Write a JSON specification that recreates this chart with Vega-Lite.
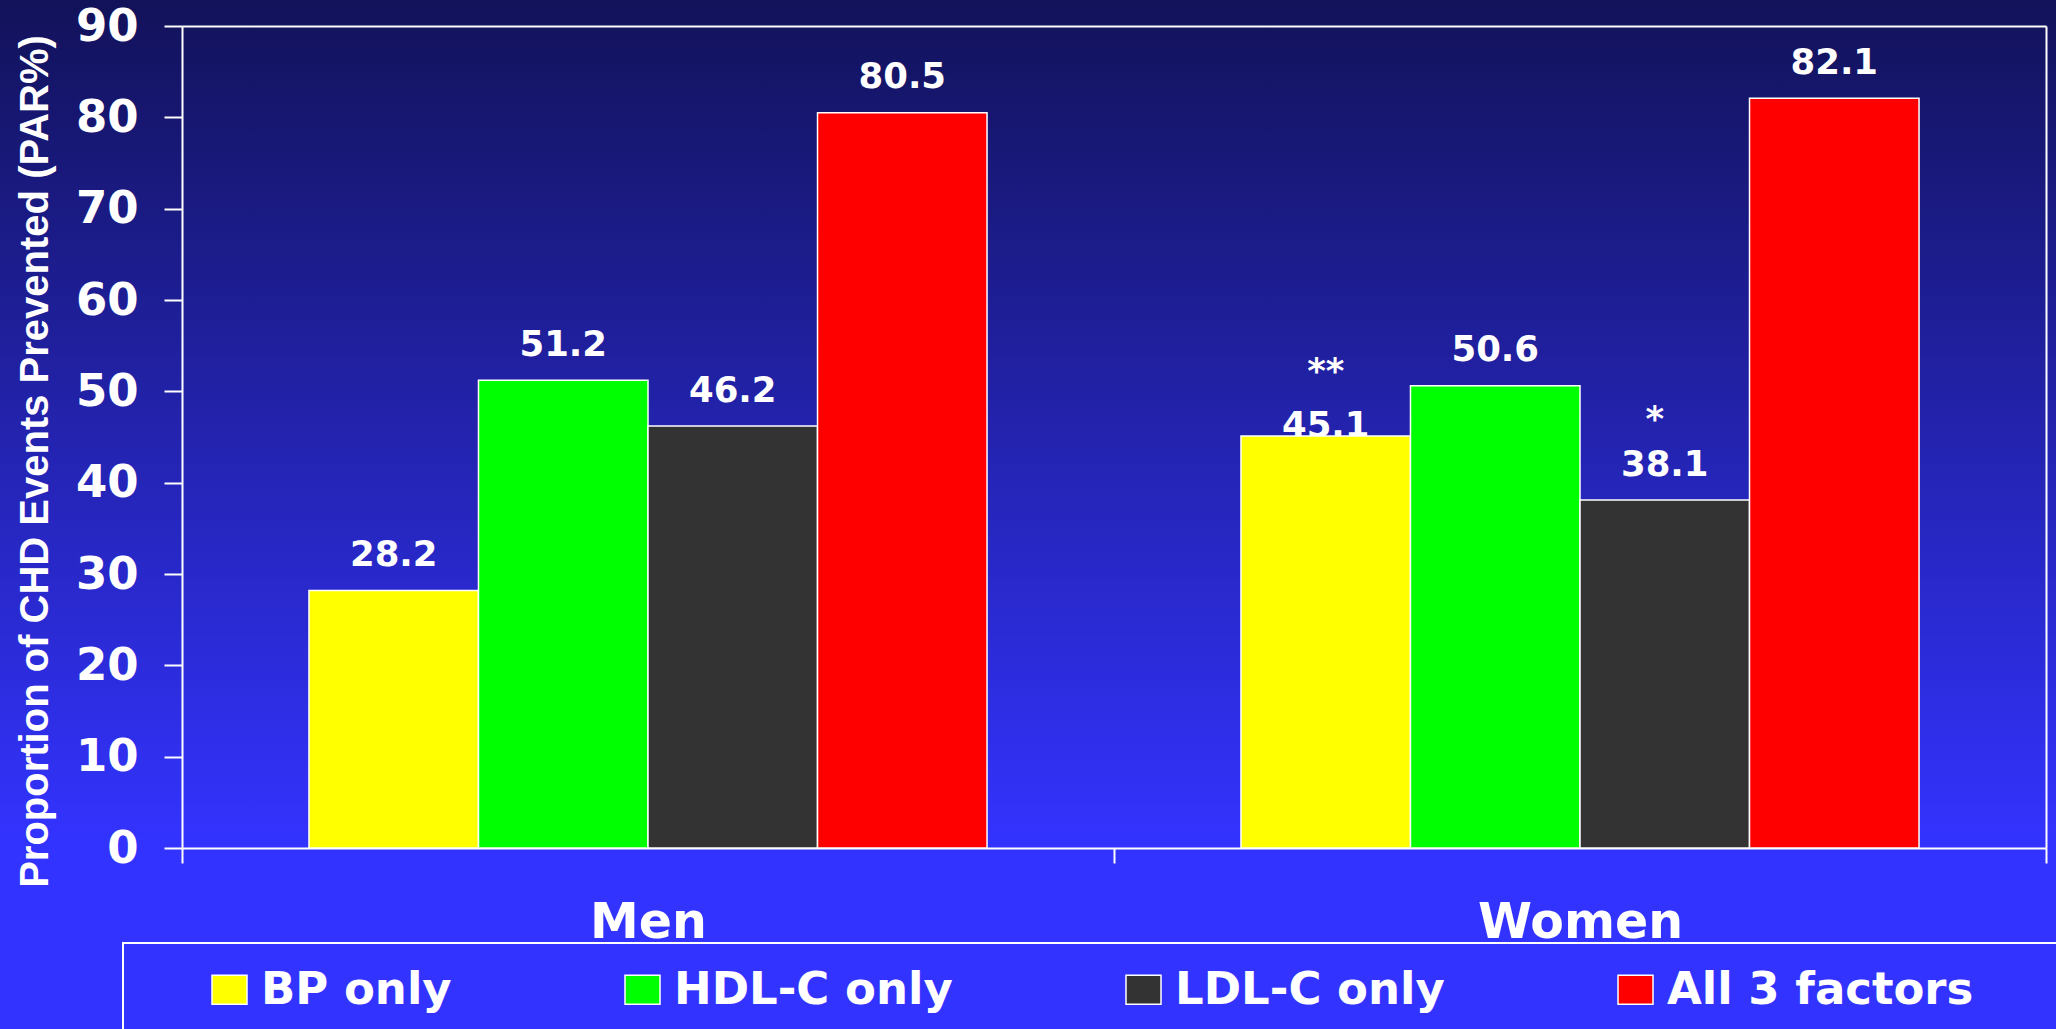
{
  "$schema": "https://vega.github.io/schema/vega-lite/v6.json",
  "width": 2056,
  "height": 1029,
  "autosize": {"type": "none"},
  "padding": 0,
  "background": "#3333ff",
  "config": {
    "view": {
      "stroke": null,
      "fill": {
        "gradient": "linear",
        "x1": 0, "y1": 0, "x2": 0, "y2": 1,
        "stops": [
          {"offset": 0, "color": "#12125a"},
          {"offset": 0.82, "color": "#3333ff"},
          {"offset": 1, "color": "#3333ff"}
        ]
      }
    },
    "axis": {
      "grid": false,
      "domainColor": "white",
      "domainWidth": 2,
      "tickColor": "white",
      "tickWidth": 2,
      "labelColor": "white",
      "titleColor": "white"
    },
    "legend": {"strokeWidth": 2}
  },
  "title": {
    "text": "(Wong et al., Am J Cardiol, 91:1421, 2003)",
    "orient": "top",
    "anchor": "start",
    "frame": "group",
    "offset": -14,
    "baseline": "alphabetic",
    "dx": 612,
    "font": "Liberation Sans",
    "fontSize": 47,
    "fontWeight": "normal",
    "color": "#00ffff"
  },
  "data": {
    "values": [
      {"sex": "Men", "factor": "BP only", "par": 28.2, "note": ""},
      {"sex": "Men", "factor": "HDL-C only", "par": 51.2, "note": ""},
      {"sex": "Men", "factor": "LDL-C only", "par": 46.2, "note": ""},
      {"sex": "Men", "factor": "All 3 factors", "par": 80.5, "note": ""},
      {"sex": "Women", "factor": "BP only", "par": 45.1, "note": "**"},
      {"sex": "Women", "factor": "HDL-C only", "par": 50.6, "note": ""},
      {"sex": "Women", "factor": "LDL-C only", "par": 38.1, "note": "*"},
      {"sex": "Women", "factor": "All 3 factors", "par": 82.1, "note": ""}
    ]
  },
  "resolve": {"axis": {"x": "independent", "y": "independent"}},
  "layer": [
    {
      "transform": [{"filter": "datum.note == '**'"}],
      "mark": {"type": "text", "font": "DejaVu Sans", "fontWeight": "bold", "fontSize": 35.5, "color": "white", "baseline": "alphabetic", "dy": 1},
      "encoding": {
        "x": {"field": "sex", "type": "nominal", "sort": ["Men", "Women"], "axis": null},
        "xOffset": {"field": "factor", "type": "nominal", "sort": ["BP only", "HDL-C only", "LDL-C only", "All 3 factors"]},
        "y": {"field": "par", "type": "quantitative", "axis": null},
        "text": {"field": "par", "type": "quantitative", "format": ".1f"}
      }
    },
    {
      "mark": {"type": "bar", "stroke": "white", "strokeWidth": 1.5},
      "encoding": {
        "x": {
          "field": "sex",
          "type": "nominal",
          "sort": ["Men", "Women"],
          "scale": {"range": [182, 2046], "paddingInner": 0, "paddingOuter": 0},
          "axis": {
            "orient": "bottom",
            "offset": -181,
            "title": null,
            "tickBand": "extent",
            "tickSize": 15,
            "labelAngle": 0,
            "labelFont": "DejaVu Sans",
            "labelFontWeight": "bold",
            "labelFontSize": 49,
            "labelBaseline": "top",
            "labelPadding": 35,
            "labelLimit": 0
          }
        },
        "xOffset": {
          "field": "factor",
          "type": "nominal",
          "sort": ["BP only", "HDL-C only", "LDL-C only", "All 3 factors"],
          "scale": {"paddingInner": 0, "paddingOuter": 0.749}
        },
        "y": {
          "field": "par",
          "type": "quantitative",
          "scale": {"domain": [0, 90], "range": [848, 26], "nice": false, "zero": true},
          "axis": {
            "orient": "left",
            "offset": -182,
            "values": [0, 10, 20, 30, 40, 50, 60, 70, 80, 90],
            "tickSize": 18,
            "labelFont": "DejaVu Sans",
            "labelFontWeight": "bold",
            "labelFontSize": 45,
            "labelPadding": 26,
            "title": "Proportion of CHD Events Prevented (PAR%)",
            "titleFont": "Liberation Sans",
            "titleFontWeight": "bold",
            "titleFontSize": 40,
            "titleAngle": -90,
            "titleBaseline": "alphabetic",
            "titleAlign": "center",
            "titleLimit": 0,
            "titleX": -135,
            "titleY": 461
          }
        },
        "color": {
          "field": "factor",
          "type": "nominal",
          "sort": ["BP only", "HDL-C only", "LDL-C only", "All 3 factors"],
          "scale": {
            "domain": ["BP only", "HDL-C only", "LDL-C only", "All 3 factors"],
            "range": ["#ffff00", "#00ff00", "#333333", "#ff0000"]
          },
          "legend": {
            "orient": "none",
            "legendX": 123,
            "legendY": 943,
            "direction": "horizontal",
            "columns": 4,
            "gridAlign": "each",
            "columnPadding": 108,
            "title": " ",
            "titleOrient": "right",
            "titlePadding": 60,
            "titleFontSize": 45,
            "padding": 24,
            "strokeColor": "white",
            "symbolType": "M-1,-0.83H1V0.83H-1Z",
            "symbolSize": 1225,
            "symbolOpacity": 1,
            "symbolStrokeColor": "white",
            "symbolStrokeWidth": 1.5,
            "symbolOffset": 60,
            "labelOffset": 9,
            "labelFont": "DejaVu Sans",
            "labelFontWeight": "bold",
            "labelFontSize": 45,
            "labelColor": "white",
            "labelLimit": 0
          }
        }
      }
    },
    {
      "transform": [{"filter": "datum.note != '**'"}],
      "mark": {"type": "text", "font": "DejaVu Sans", "fontWeight": "bold", "fontSize": 35.5, "color": "white", "baseline": "alphabetic", "dy": -24.5},
      "encoding": {
        "x": {"field": "sex", "type": "nominal", "sort": ["Men", "Women"], "axis": null},
        "xOffset": {"field": "factor", "type": "nominal", "sort": ["BP only", "HDL-C only", "LDL-C only", "All 3 factors"]},
        "y": {"field": "par", "type": "quantitative", "axis": null},
        "text": {"field": "par", "type": "quantitative", "format": ".1f"}
      }
    },
    {
      "transform": [{"filter": "datum.note == '**'"}],
      "mark": {"type": "text", "font": "DejaVu Sans", "fontWeight": "bold", "fontSize": 35.5, "color": "white", "baseline": "alphabetic", "dy": -53},
      "encoding": {
        "x": {"field": "sex", "type": "nominal", "sort": ["Men", "Women"], "axis": null},
        "xOffset": {"field": "factor", "type": "nominal", "sort": ["BP only", "HDL-C only", "LDL-C only", "All 3 factors"]},
        "y": {"field": "par", "type": "quantitative", "axis": null},
        "text": {"field": "note", "type": "nominal"}
      }
    },
    {
      "transform": [{"filter": "datum.note == '*'"}],
      "mark": {"type": "text", "font": "DejaVu Sans", "fontWeight": "bold", "fontSize": 35.5, "color": "white", "baseline": "alphabetic", "dy": -69, "dx": -10},
      "encoding": {
        "x": {
          "field": "sex", "type": "nominal", "sort": ["Men", "Women"],
          "axis": {"orient": "top", "offset": -26, "ticks": false, "labels": false, "title": null}
        },
        "xOffset": {"field": "factor", "type": "nominal", "sort": ["BP only", "HDL-C only", "LDL-C only", "All 3 factors"]},
        "y": {
          "field": "par", "type": "quantitative",
          "axis": {"orient": "right", "offset": -10, "ticks": false, "labels": false, "title": null}
        },
        "text": {"field": "note", "type": "nominal"}
      }
    }
  ]
}
